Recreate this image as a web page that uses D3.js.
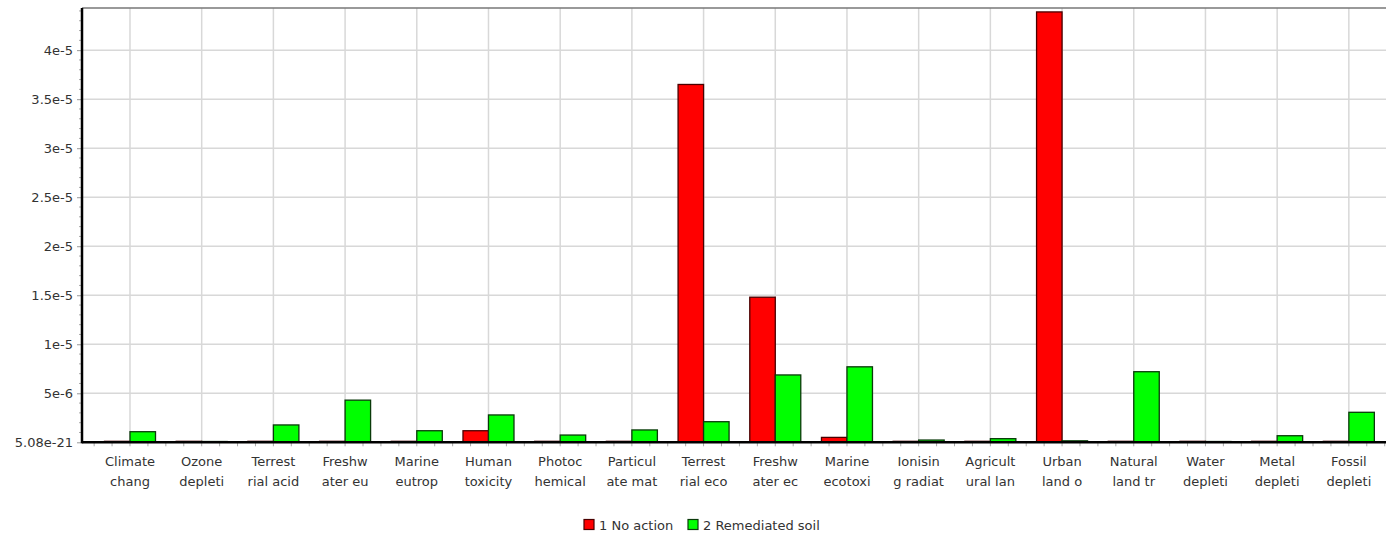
<!DOCTYPE html>
<html>
<head>
<meta charset="utf-8">
<script src="https://cdn.jsdelivr.net/npm/d3@7"></script>
<style>
  html, body { margin: 0; padding: 0; background: #fff; }
  svg { display: block; font-family: "DejaVu Sans", Verdana, sans-serif; }
</style>
</head>
<body>
<svg id="chart" width="1386" height="534"></svg>
<script>
// Impact categories (two-line truncated names as shown under the axis)
const categories = [
  ["Climate", "chang"], ["Ozone", "depleti"], ["Terrest", "rial acid"], ["Freshw", "ater eu"],
  ["Marine", "eutrop"], ["Human", "toxicity"], ["Photoc", "hemical"], ["Particul", "ate mat"],
  ["Terrest", "rial eco"], ["Freshw", "ater ec"], ["Marine", "ecotoxi"], ["Ionisin", "g radiat"],
  ["Agricult", "ural lan"], ["Urban", "land o"], ["Natural", "land tr"], ["Water", "depleti"],
  ["Metal", "depleti"], ["Fossil", "depleti"]
];

const seriesNames = ["1 No action", "2 Remediated soil"];

const noAction = [
  0.1e-6, 0.1e-6, 0.1e-6, 0.1e-6, 0.1e-6, 1.18e-6, 0.1e-6, 0.1e-6, 36.5e-6,
  14.8e-6, 0.5e-6, 0.1e-6, 0.1e-6, 43.9e-6, 0.1e-6, 0.1e-6, 0.1e-6, 0.1e-6
];
const remediatedSoil = [
  1.08e-6, 0.08e-6, 1.77e-6, 4.3e-6, 1.18e-6, 2.79e-6, 0.74e-6, 1.26e-6, 2.1e-6,
  6.87e-6, 7.7e-6, 0.23e-6, 0.37e-6, 0.15e-6, 7.2e-6, 0.08e-6, 0.67e-6, 3.06e-6
];

const yTickValues = [0, 5e-6, 1e-5, 1.5e-5, 2e-5, 2.5e-5, 3e-5, 3.5e-5, 4e-5];
const yTickLabels = ["5.08e-21", "5e-6", "1e-5", "1.5e-5", "2e-5", "2.5e-5", "3e-5", "3.5e-5", "4e-5"];
const yMax = 4.43e-5;

const colors = ["#ff0000", "#00ff00"];
const strokes = ["#4a0000", "#0a3a0a"];
const textColor = "#333";
const fontSize = 13;

const svg = d3.select("#chart");
const plot = { left: 82, right: 1386, top: 8, bottom: 442.3 };
const bandLeft = 94.15, bandRight = 1384.7;

const x = d3.scaleBand()
  .domain(d3.range(categories.length))
  .range([bandLeft, bandRight])
  .padding(0);

const inner = d3.scaleBand()
  .domain([0, 1])
  .range([x.bandwidth() / 2 - 25.5, x.bandwidth() / 2 + 25.5])
  .padding(0);

const y = d3.scaleLinear().domain([0, yMax]).range([plot.bottom, plot.top]);

// Horizontal gridlines
svg.append("g")
  .selectAll("line")
  .data(yTickValues.filter(v => v > 0))
  .join("line")
  .attr("x1", plot.left).attr("x2", plot.right)
  .attr("y1", d => y(d)).attr("y2", d => y(d))
  .attr("stroke", "#d8d8d8").attr("stroke-width", 1.5);

// Vertical gridlines at category centres
svg.append("g")
  .selectAll("line")
  .data(d3.range(categories.length))
  .join("line")
  .attr("x1", i => x(i) + x.bandwidth() / 2).attr("x2", i => x(i) + x.bandwidth() / 2)
  .attr("y1", plot.top).attr("y2", plot.bottom)
  .attr("stroke", "#d8d8d8").attr("stroke-width", 1.5);

// Top frame line
svg.append("line")
  .attr("x1", plot.left).attr("x2", plot.right)
  .attr("y1", plot.top).attr("y2", plot.top)
  .attr("stroke", "#777").attr("stroke-width", 1.5);

// Bars
const series = [noAction, remediatedSoil];
series.forEach((vals, s) => {
  svg.append("g")
    .selectAll("rect")
    .data(vals)
    .join("rect")
    .attr("x", (d, i) => x(i) + inner(s))
    .attr("width", inner.bandwidth())
    .attr("y", d => y(d))
    .attr("height", d => y(0) - y(d))
    .attr("fill", colors[s])
    .attr("stroke", strokes[s])
    .attr("stroke-width", 1.3);
});

// Y axis with major labels and minor ticks
const yAxis = d3.axisLeft(y)
  .tickValues(yTickValues)
  .tickFormat((d, i) => yTickLabels[i])
  .tickSize(5)
  .tickPadding(4);
const gy = svg.append("g").attr("transform", `translate(${plot.left},0)`).call(yAxis);
gy.select(".domain").remove();
gy.selectAll(".tick line").attr("stroke", "#999");
gy.selectAll(".tick text")
  .attr("font-size", fontSize)
  .attr("fill", textColor)
  .attr("font-family", "DejaVu Sans, sans-serif");

const yMinor = d3.range(1, 45).map(k => k * 1e-6).filter(v => v <= yMax && Math.round(v * 1e6) % 5 !== 0);
svg.append("g")
  .selectAll("line")
  .data(yMinor)
  .join("line")
  .attr("x1", plot.left - 3).attr("x2", plot.left)
  .attr("y1", d => y(d)).attr("y2", d => y(d))
  .attr("stroke", "#aaa");

// X axis labels (two lines) and minor ticks
const gx = svg.append("g");
gx.selectAll("text")
  .data(categories)
  .join("text")
  .attr("x", (d, i) => x(i) + x.bandwidth() / 2)
  .attr("y", plot.bottom + 24)
  .attr("text-anchor", "middle")
  .attr("font-size", fontSize)
  .attr("fill", textColor)
  .each(function (d) {
    d3.select(this).selectAll("tspan")
      .data(d)
      .join("tspan")
      .attr("x", d3.select(this).attr("x"))
      .attr("dy", (t, j) => j === 0 ? 0 : 20)
      .text(t => t);
  });

const xMinor = d3.range(categories.length * 4 + 1).map(k => bandLeft + k * x.bandwidth() / 4);
svg.append("g")
  .selectAll("line")
  .data(xMinor)
  .join("line")
  .attr("x1", d => d).attr("x2", d => d)
  .attr("y1", plot.bottom).attr("y2", plot.bottom + 4)
  .attr("stroke", "#aaa");

// Axis lines
svg.append("line")
  .attr("x1", plot.left).attr("x2", plot.left)
  .attr("y1", plot.top).attr("y2", plot.bottom + 1)
  .attr("stroke", "#000").attr("stroke-width", 2.5);
svg.append("line")
  .attr("x1", plot.left).attr("x2", plot.right)
  .attr("y1", plot.bottom).attr("y2", plot.bottom)
  .attr("stroke", "#000").attr("stroke-width", 2.5);

// Legend
const legend = svg.append("g").attr("transform", "translate(584,525)");
const legendX = [0, 104];
seriesNames.forEach((name, s) => {
  const g = legend.append("g").attr("transform", `translate(${legendX[s]},0)`);
  g.append("rect")
    .attr("x", 0).attr("y", -5.5).attr("width", 10).attr("height", 10)
    .attr("fill", colors[s]).attr("stroke", strokes[s]).attr("stroke-width", 1.2);
  g.append("text")
    .attr("x", 15).attr("y", 4.5)
    .attr("font-size", fontSize)
    .attr("fill", textColor)
    .text(name);
});
</script>
</body>
</html>
